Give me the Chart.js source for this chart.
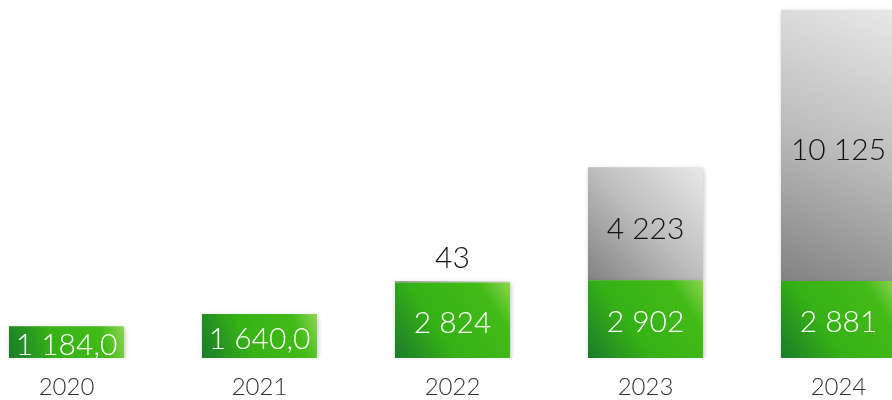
<!DOCTYPE html>
<html>
<head>
<meta charset="utf-8">
<script src="https://cdn.jsdelivr.net/npm/chart.js@4"></script>
<style>
  html, body { margin: 0; padding: 0; background: #fff; overflow: hidden; }
  #wrap { position: relative; width: 892px; height: 400px; overflow: hidden; }
  #chart { position: absolute; left: -30px; top: 0; }
</style>
</head>
<body>
<div id="wrap"><canvas id="chart" width="965" height="400"></canvas></div>
<script>
const years = ['2020', '2021', '2022', '2023', '2024'];
const greenValues = [1184.0, 1640.0, 2824, 2902, 2881];
const greyValues = [0, 0, 43, 4223, 10125];
const greenLabels = ['1 184,0', '1 640,0', '2 824', '2 902', '2 881'];
const greyLabels = ['', '', '43', '4 223', '10 125'];

const BAR_PCT = 0.596;
const FONT = 'Lato';

const greenStops = [[0, '#1a7b2b'], [0.38, '#36b116'], [0.8, '#42bb17'], [1, '#8ed552']];
const greyStops = [[0, '#828282'], [0.5, '#bdbdbd'], [1, '#e8e8e8']];

function barGradient(ctx, stops) {
    var chart = ctx.chart;
    if (!chart.chartArea || ctx.type !== 'data') return stops[1][1];
    var xs = chart.scales.x, ys = chart.scales.y;
    var i = ctx.dataIndex;
    var base = 0;
    for (let d = 0; d < ctx.datasetIndex; d++) base += chart.data.datasets[d].data[i] || 0;
    var v = ctx.raw || 0;
    var cx = xs.getPixelForValue(i);
    var half = xs.width / years.length * BAR_PCT / 2;
    var g = chart.ctx.createLinearGradient(cx - half, ys.getPixelForValue(base), cx + half, ys.getPixelForValue(base + v));
    stops.forEach(s => g.addColorStop(s[0], s[1]));
    return g;
}

// soft drop shadow under the bars
const shadowPlugin = {
    id: 'shadow',
    beforeDatasetsDraw(chart) {
        var c = chart.ctx;
        c.save();
        c.shadowColor = 'rgba(0,0,0,0.28)';
        c.shadowBlur = 5;
        c.shadowOffsetX = 1;
        c.shadowOffsetY = 2;
    },
    afterDatasetsDraw(chart) {
        chart.ctx.restore();
    }
};

// value labels inside (or above) each segment
const labelPlugin = {
    id: 'valueLabels',
    afterDraw(chart) {
        var c = chart.ctx;
        c.save();
        c.textAlign = 'center';
        c.textBaseline = 'middle';
        c.font = '300 30px ' + FONT;
        chart.data.datasets.forEach((ds, di) => {
            var meta = chart.getDatasetMeta(di);
            meta.data.forEach((bar, i) => {
                var txt = ds.valueLabels[i];
                if (!txt) return;
                var p = bar.getProps(['x', 'y', 'base'], true);
                var h = p.base - p.y;
                var y;
                if (h < 20) {
                    y = p.y - 23;
                    c.fillStyle = '#111';
                } else {
                    y = (p.y + p.base) / 2 + ds.labelShift;
                    c.fillStyle = ds.labelColor;
                }
                c.fillText(txt, p.x, y);
            });
        });
        c.restore();
    }
};

new Chart(document.getElementById('chart'), {
    type: 'bar',
    data: {
        labels: years,
        datasets: [
            {
                data: greenValues,
                valueLabels: greenLabels,
                labelColor: '#ffffff',
                labelShift: 3,
                backgroundColor: ctx => barGradient(ctx, greenStops),
                barPercentage: BAR_PCT,
                categoryPercentage: 1
            },
            {
                data: greyValues,
                valueLabels: greyLabels,
                labelColor: '#111111',
                labelShift: 5,
                backgroundColor: ctx => barGradient(ctx, greyStops),
                barPercentage: BAR_PCT,
                categoryPercentage: 1
            }
        ]
    },
    options: {
        responsive: false,
        animation: false,
        layout: { padding: 0 },
        plugins: { legend: { display: false }, tooltip: { enabled: false } },
        scales: {
            x: {
                stacked: true,
                grid: { display: false, drawTicks: false },
                border: { display: false },
                afterFit(scale) { scale.height = 42; },
                ticks: {
                    color: '#333',
                    padding: 15,
                    font: { family: FONT, size: 24, weight: '300', lineHeight: 1.2 }
                }
            },
            y: {
                stacked: true,
                display: false,
                min: 0,
                max: 13380
            }
        }
    },
    plugins: [shadowPlugin, labelPlugin]
});
</script>
</body>
</html>
